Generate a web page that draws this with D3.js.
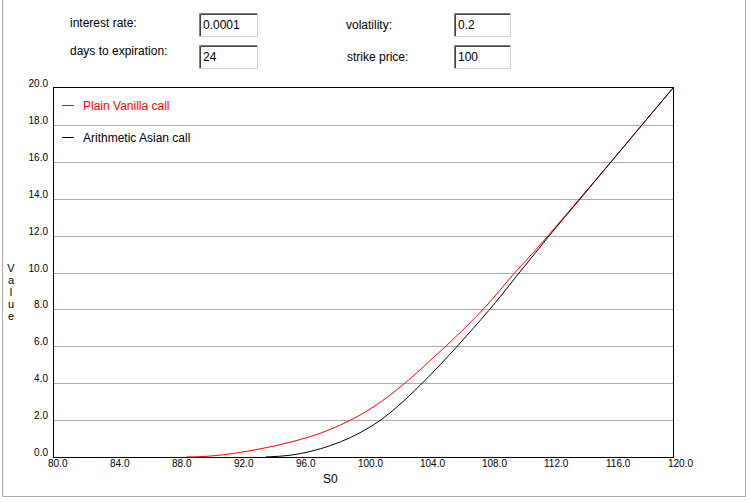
<!DOCTYPE html>
<html><head><meta charset="utf-8">
<script src="https://cdn.jsdelivr.net/npm/d3@7"></script>
<style>
body{margin:0;background:#fff;}
svg{display:block;font-family:"Liberation Sans",Arial,sans-serif;}
</style></head>
<body>
<svg id="chart" width="750" height="502"></svg>
<script>
// ---- data ----
const xTicks = [80, 84, 88, 92, 96, 100, 104, 108, 112, 116, 120];
const yTicks = [0, 2, 4, 6, 8, 10, 12, 14, 16, 18, 20];
const seriesNames = ["Plain Vanilla call", "Arithmetic Asian call"];
const vanillaS = [88.6, 90.0, 91.7, 93.35, 95.3, 97.9, 99.2, 100.7, 102.7, 104.3, 105.4, 106.7, 107.8, 108.8, 109.8, 110.6, 112, 114, 116, 118, 120];
const vanillaV = [0.0, 0.04, 0.2, 0.44, 0.8, 1.5, 2.0, 2.73, 4.0, 5.2, 6.05, 7.1, 8.05, 9.0, 10.0, 10.72, 12.05, 14.02, 16.0, 18.0, 20.0];
const asianS = [93.7, 94.6, 95.5, 96.6, 97.9, 99.2, 100.4, 101.1, 102.2, 103.7, 105.0, 106.0, 107.1, 108.1, 109.0, 109.9, 110.7, 112, 114, 116, 118, 120];
const asianV = [0.0, 0.04, 0.12, 0.3, 0.62, 1.06, 1.6, 1.98, 2.72, 3.9, 5.02, 5.93, 6.96, 7.93, 8.84, 9.8, 10.62, 11.98, 13.98, 15.99, 18.0, 20.0];
const inputLabels = ["interest rate:", "days to expiration:", "volatility:", "strike price:"];
const inputValues = ["0.0001", "24", "0.2", "100"];

const svg = d3.select("#chart");

// outer frame
svg.append("path").attr("d", "M2.5,0 V496.5 H745.5 V0")
  .attr("fill", "none").attr("stroke", "#a8a8a8");

// input controls
const ctrlPos = [
  {lx: 70, ly: 27, bx: 199, by: 13, bw: 59},
  {lx: 70, ly: 55, bx: 199, by: 45, bw: 59},
  {lx: 346, ly: 29, bx: 454, by: 13, bw: 57},
  {lx: 347, ly: 61, bx: 454, by: 45, bw: 57}
];
inputLabels.forEach((t, i) => {
  const p = ctrlPos[i];
  svg.append("text").attr("x", p.lx).attr("y", p.ly).attr("font-size", 12).attr("fill", "#000").text(t);
  const g = svg.append("g");
  g.append("rect").attr("x", p.bx).attr("y", p.by).attr("width", p.bw).attr("height", 24).attr("fill", "#fff");
  g.append("path").attr("d", `M${p.bx+0.5},${p.by+24} V${p.by+0.5} H${p.bx+p.bw}`).attr("fill","none").attr("stroke","#808080");
  g.append("path").attr("d", `M${p.bx+1.5},${p.by+23} V${p.by+1.5} H${p.bx+p.bw-1}`).attr("fill","none").attr("stroke","#404040");
  g.append("path").attr("d", `M${p.bx},${p.by+23.5} H${p.bx+p.bw-0.5} V${p.by}`).attr("fill","none").attr("stroke","#d4d0c8");
  g.append("text").attr("x", p.bx + 4).attr("y", p.by + 16).attr("font-size", 12).attr("fill", "#000").text(inputValues[i]);
});

// plot scales
const x = d3.scaleLinear().domain([80, 120]).range([53, 673]);
const y = d3.scaleLinear().domain([0, 20]).range([457, 88]);

// gridlines
svg.append("g").selectAll("line").data(yTicks.filter(d => d > 0 && d < 20)).join("line")
  .attr("x1", 53).attr("x2", 673)
  .attr("y1", d => Math.round(y(d)) + 0.5).attr("y2", d => Math.round(y(d)) + 0.5)
  .attr("stroke", "#aaaaaa");

// y axis labels
svg.append("g").selectAll("text").data(yTicks).join("text")
  .attr("x", 48).attr("y", d => Math.round(y(d)) - 1)
  .attr("text-anchor", "end").attr("font-size", 10).attr("fill", "#000")
  .text(d => d.toFixed(1));

// x axis labels
svg.append("g").selectAll("text").data(xTicks).join("text")
  .attr("x", d => x(d) - 5).attr("y", 467)
  .attr("font-size", 10).attr("fill", "#000")
  .text(d => d.toFixed(1));

// plot frame
svg.append("rect").attr("x", 53.5).attr("y", 87.5).attr("width", 620).attr("height", 370)
  .attr("fill", "none").attr("stroke", "#000");

// axis titles
svg.append("text").attr("x", 323).attr("y", 483).attr("font-size", 12).attr("fill", "#000").text("S0");
svg.append("text").attr("x", 11).attr("y", 262)
  .style("writing-mode", "vertical-rl").style("text-orientation", "upright")
  .attr("font-size", 11).attr("fill", "#000").text("Value");

// lines
const line = d3.line().x(d => x(d[0])).y(d => y(d[1])).curve(d3.curveMonotoneX);
const vanilla = vanillaS.map((s, i) => [s, vanillaV[i]]);
const asian = asianS.map((s, i) => [s, asianV[i]]);
svg.append("path").datum(vanilla).attr("d", line).attr("fill", "none").attr("stroke", "#ff0000").attr("stroke-width", 1);
svg.append("path").datum(asian).attr("d", line).attr("fill", "none").attr("stroke", "#000").attr("stroke-width", 1);

// legend
const legColors = ["#ff0000", "#000000"];
seriesNames.forEach((n, i) => {
  const ly = 105 + i * 32;
  svg.append("line").attr("x1", 62).attr("x2", 74).attr("y1", ly + 0.5).attr("y2", ly + 0.5)
    .attr("stroke", legColors[i]);
  svg.append("text").attr("x", 83).attr("y", ly + 5).attr("font-size", 12).attr("fill", legColors[i]).text(n);
});
</script>
</body></html>
